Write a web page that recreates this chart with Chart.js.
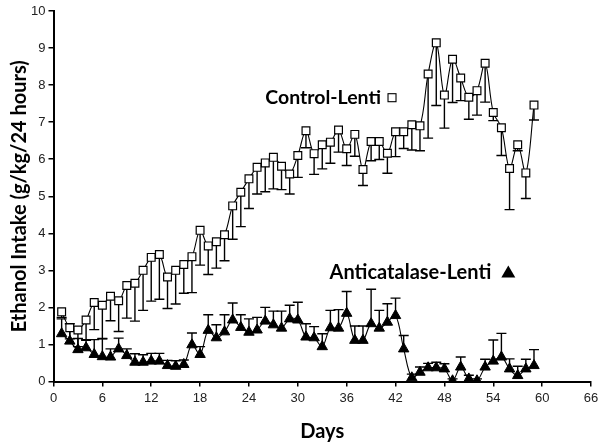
<!DOCTYPE html>
<html>
<head>
<meta charset="utf-8">
<script src="https://cdn.jsdelivr.net/npm/chart.js@4/dist/chart.umd.min.js"></script>
<style>
  html, body { margin: 0; padding: 0; background: #fff; }
  #wrap { width: 605px; height: 446px; }
</style>
</head>
<body>
<div id="wrap"><canvas id="chart"></canvas></div>
<script>
// Data
var days = [1,2,3,4,5,6,7,8,9,10,11,12,13,14,15,16,17,18,19,20,
            21,22,23,24,25,26,27,28,29,30,31,32,33,34,35,36,37,38,39,40,
            41,42,43,44,45,46,47,48,49,50,51,52,53,54,55,56,57,58,59];

var controlLenti = [1.88,1.45,1.39,1.66,2.13,2.06,2.30,2.18,2.59,2.65,
                    3.00,3.35,3.43,2.82,3.00,3.16,3.37,4.08,3.66,3.77,
                    3.96,4.74,5.11,5.47,5.78,5.90,6.05,5.81,5.60,6.10,
                    6.77,6.15,6.39,6.46,6.79,6.28,6.67,5.72,6.48,6.48,
                    6.16,6.74,6.74,6.93,6.90,8.30,9.14,7.73,8.70,8.19,
                    7.67,7.85,8.59,7.26,6.85,5.75,6.39,5.63,7.46];
var controlErr = [0.15,0.30,0.45,0.55,0.73,0.90,0.66,0.83,0.88,1.02,
                  1.08,1.18,1.21,0.85,0.91,0.78,0.97,0.94,0.77,0.71,
                  0.70,0.90,0.93,0.80,0.72,0.78,0.85,0.63,0.54,0.59,
                  0.46,0.56,0.65,0.57,0.60,0.45,0.59,0.43,0.52,0.49,
                  0.54,0.67,0.45,0.68,0.67,1.73,1.69,0.89,1.17,0.61,
                  0.59,0.66,1.05,0.22,0.75,1.11,0.16,0.69,0.40];

var anticatLenti = [1.29,1.09,0.86,0.91,0.73,0.67,0.66,0.88,0.70,0.52,
                    0.52,0.55,0.55,0.43,0.41,0.46,0.99,0.73,1.38,1.18,
                    1.34,1.66,1.46,1.33,1.39,1.63,1.53,1.44,1.69,1.66,
                    1.20,1.18,0.94,1.45,1.44,1.84,1.11,1.11,1.56,1.44,
                    1.60,1.78,0.88,0.10,0.25,0.37,0.37,0.34,0.02,0.39,
                    0.07,0.02,0.39,0.55,0.66,0.34,0.16,0.34,0.43];
var anticatErr = [0.40,0.47,0.30,0.22,0.40,0.48,0.22,0.29,0.18,0.23,
                  0.20,0.21,0.21,0.14,0.15,0.12,0.32,0.21,0.42,0.35,
                  0.46,0.46,0.34,0.36,0.34,0.37,0.37,0.46,0.37,0.48,
                  0.36,0.30,0.35,0.47,0.50,0.59,0.39,0.39,0.93,0.48,
                  0.50,0.47,0.36,0.10,0.14,0.12,0.15,0.14,0.05,0.27,
                  0.10,0.05,0.21,0.57,0.64,0.27,0.25,0.26,0.43];

var xTicks = [0,6,12,18,24,30,36,42,48,54,60,66];
var yTicks = [0,1,2,3,4,5,6,7,8,9,10];

function toPoints(vals) {
  var pts = [];
  for (var i = 0; i < vals.length; i++) {
    pts.push({x: days[i], y: vals[i]});
  }
  return pts;
}

// error bars: control drawn downward, anticatalase upward
var errorBars = {
  id: 'errorBars',
  beforeDatasetsDraw: function(chart) {
    var ctx = chart.ctx;
    var xs = chart.scales.x, ys = chart.scales.y;
    ctx.save();
    ctx.strokeStyle = '#000';
    ctx.lineWidth = 1.4;
    chart.data.datasets.forEach(function(ds) {
      for (var i = 0; i < ds.data.length; i++) {
        var p = ds.data[i];
        var end = p.y + ds.errDir * ds.errors[i];
        var px = xs.getPixelForValue(p.x);
        var y0 = ys.getPixelForValue(p.y);
        var y1 = ys.getPixelForValue(end);
        ctx.beginPath();
        ctx.moveTo(px, y0);
        ctx.lineTo(px, y1);
        ctx.moveTo(px - 5, y1);
        ctx.lineTo(px + 5, y1);
        ctx.stroke();
      }
    });
    ctx.restore();
  }
};

// series labels written inside the plot
var seriesLabels = {
  id: 'seriesLabels',
  afterDatasetsDraw: function(chart) {
    var ctx = chart.ctx;
    var xs = chart.scales.x, ys = chart.scales.y;
    ctx.save();
    ctx.fillStyle = '#000';
    ctx.textBaseline = 'middle';
    ctx.textAlign = 'left';

    ctx.font = 'bold 19.5px Lato, "Open Sans", sans-serif';
    var cx = xs.getPixelForValue(26), cy = ys.getPixelForValue(7.66);
    ctx.fillText('Control-Lenti', cx, cy);
    var w = ctx.measureText('Control-Lenti').width;
    ctx.fillStyle = '#fff';
    ctx.strokeStyle = '#000';
    ctx.lineWidth = 1.1;
    ctx.fillRect(cx + w + 7, cy - 4, 8, 8);
    ctx.strokeRect(cx + w + 7, cy - 4, 8, 8);

    ctx.fillStyle = '#000';
    ctx.font = 'bold 20px Lato, "Open Sans", sans-serif';
    var ax = xs.getPixelForValue(33.9), ay = ys.getPixelForValue(2.94);
    ctx.fillText('Anticatalase-Lenti', ax, ay);
    var w2 = ctx.measureText('Anticatalase-Lenti').width;
    var tx = ax + w2 + 17;
    ctx.beginPath();
    ctx.moveTo(tx, ay - 7);
    ctx.lineTo(tx + 7, ay + 5);
    ctx.lineTo(tx - 7, ay + 5);
    ctx.closePath();
    ctx.fill();
    ctx.restore();
  }
};

var chart = new Chart(document.getElementById('chart'), {
  type: 'line',
  data: {
    datasets: [{
      label: 'Control-Lenti',
      data: toPoints(controlLenti),
      errors: controlErr,
      errDir: -1,
      borderColor: '#000',
      borderWidth: 1.1,
      tension: 0.35,
      pointStyle: 'rect',
      pointRadius: 5.5,
      pointBorderWidth: 1.2,
      pointBackgroundColor: '#fff',
      pointBorderColor: '#000'
    }, {
      label: 'Anticatalase-Lenti',
      data: toPoints(anticatLenti),
      errors: anticatErr,
      errDir: 1,
      borderColor: '#000',
      borderWidth: 1.1,
      tension: 0.35,
      pointStyle: 'triangle',
      pointRadius: 6,
      pointBorderWidth: 1,
      pointBackgroundColor: '#000',
      pointBorderColor: '#000'
    }]
  },
  options: {
    responsive: true,
    maintainAspectRatio: false,
    animation: false,
    layout: { padding: { top: 11, right: 14, bottom: 0, left: 0 } },
    plugins: {
      legend: { display: false },
      tooltip: { enabled: false }
    },
    scales: {
      x: {
        type: 'linear',
        min: 0,
        max: 66,
        afterBuildTicks: function(scale) {
          scale.ticks = xTicks.map(function(v) { return {value: v}; });
        },
        afterFit: function(scale) { scale.height = 64.5; },
        grid: { drawOnChartArea: false, drawTicks: true, tickLength: 5, color: '#000', lineWidth: 1.5 },
        border: { color: '#000', width: 2 },
        ticks: { color: '#222', font: { family: '"Liberation Sans", Arial, sans-serif', size: 13 }, padding: 4, maxRotation: 0 },
        title: {
          display: true,
          text: 'Days',
          color: '#000',
          font: { family: 'Lato, "Open Sans", sans-serif', size: 20, weight: 'bold' },
          padding: { top: 0, bottom: 2 }
        }
      },
      y: {
        min: 0,
        max: 10,
        afterBuildTicks: function(scale) {
          scale.ticks = yTicks.map(function(v) { return {value: v}; });
        },
        afterFit: function(scale) { scale.width = 53.5; },
        grid: { drawOnChartArea: false, drawTicks: true, tickLength: 5, color: '#000', lineWidth: 1.5 },
        border: { color: '#000', width: 2 },
        ticks: { color: '#222', font: { family: '"Liberation Sans", Arial, sans-serif', size: 13 }, padding: 3 },
        title: {
          display: true,
          text: 'Ethanol Intake (g/kg/24 hours)',
          color: '#000',
          font: { family: 'Lato, "Open Sans", sans-serif', size: 20, weight: 'bold' },
          padding: { top: 8, bottom: 0 }
        }
      }
    }
  },
  plugins: [errorBars, seriesLabels]
});
</script>
</body>
</html>
